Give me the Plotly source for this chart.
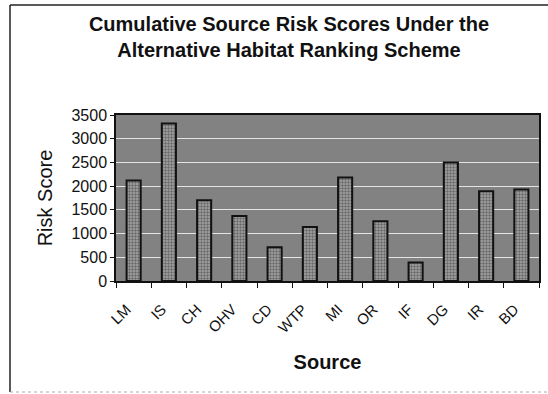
import plotly.graph_objects as go

sources = ["LM", "IS", "CH", "OHV", "CD", "WTP", "MI", "OR", "IF", "DG", "IR", "BD"]
risk_scores = [2120, 3320, 1700, 1370, 710, 1140, 2180, 1260, 390, 2500, 1890, 1930]
y_ticks = [0, 500, 1000, 1500, 2000, 2500, 3000, 3500]

W, H = 548, 394
L, R, T, B = 116, 9, 115, 113
pw, ph = W - L - R, H - T - B


def px_x(px):
    return (px - L) / pw


def px_y(py):
    return (H - B - py) / ph


fig = go.Figure(
    go.Bar(
        x=sources,
        y=risk_scores,
        width=0.4,
        marker=dict(
            color="#9a9a9a",
            line=dict(color="#111111", width=2),
            pattern=dict(shape=".", fgcolor="#2a2a2a", bgcolor="#a6a6a6", size=3, solidity=0.5),
        ),
    )
)

font = "Liberation Sans, Arial, sans-serif"
fig.update_layout(
    width=W,
    height=H,
    margin=dict(l=L, r=R, t=T, b=B),
    paper_bgcolor="white",
    plot_bgcolor="#828282",
    showlegend=False,
    font=dict(family=font, color="#111111"),
    title=dict(
        text="<b>Cumulative Source Risk Scores Under the<br>Alternative Habitat Ranking Scheme</b>",
        x=289 / W,
        xanchor="center",
        y=1 - 31 / H,
        yanchor="middle",
        font=dict(size=20, family=font, color="#111111"),
    ),
    bargap=0.6,
)

fig.update_xaxes(
    tickangle=-45,
    tickfont=dict(size=15, family=font),
    ticks="outside",
    ticklen=5,
    tickcolor="#111111",
    tickson="boundaries",
    ticklabelstandoff=12,
    ticklabelshift=-7,
    showline=True,
    linecolor="#111111",
    linewidth=1.5,
    mirror=True,
    showgrid=False,
    automargin=False,
    title=dict(text="<b>Source</b>", font=dict(size=20, family=font), standoff=20),
)

fig.update_yaxes(
    range=[0, 3500],
    tickvals=y_ticks,
    tickfont=dict(size=16, family=font),
    ticks="outside",
    ticklen=4,
    tickcolor="#111111",
    showline=True,
    linecolor="#111111",
    linewidth=1.5,
    mirror=True,
    showgrid=True,
    gridcolor="#e4e4e4",
    gridwidth=1,
    zeroline=False,
    automargin=False,
    title=dict(text="Risk Score", font=dict(size=20, family=font), standoff=13),
)

# chart-area frame
fig.add_shape(type="line", xref="paper", yref="paper",
              x0=px_x(10), x1=px_x(548), y0=px_y(5), y1=px_y(5),
              line=dict(color="#222222", width=1.5))
fig.add_shape(type="line", xref="paper", yref="paper",
              x0=px_x(10), x1=px_x(10), y0=px_y(5), y1=px_y(392),
              line=dict(color="#222222", width=1.5))
fig.add_shape(type="line", xref="paper", yref="paper",
              x0=px_x(10), x1=px_x(548), y0=px_y(392), y1=px_y(392),
              line=dict(color="#aaaaaa", width=1, dash="dot"))

fig.write_html("out.html")
